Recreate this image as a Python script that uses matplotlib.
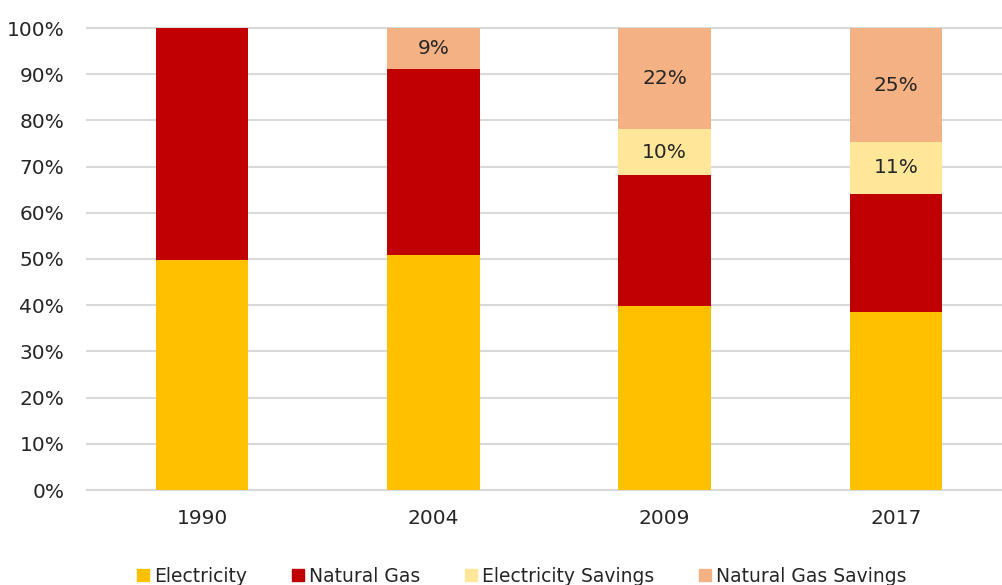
import matplotlib.pyplot as plt
import numpy as np
from matplotlib.lines import Line2D

# data (shares of total)
years = ['1990', '2004', '2009', '2017']
electricity = [49.8, 50.9, 39.8, 38.5]
natural_gas = [50.2, 40.2, 28.4, 25.6]
elec_savings = [0.0, 0.0, 9.9, 11.2]
gas_savings = [0.0, 8.9, 21.9, 24.7]
elec_savings_labels = ['', '', '10%', '11%']
gas_savings_labels = ['', '9%', '22%', '25%']

colors = ['#FFC000', '#C00000', '#FFE699', '#F4B183']
names = ['Electricity', 'Natural Gas', 'Electricity Savings', 'Natural Gas Savings']
text_col = '#262626'

plt.rcParams['font.family'] = ['DejaVu Sans']

fig = plt.figure(figsize=(10.02, 5.85), dpi=100)
ax = fig.add_axes([86.5 / 1002, 95 / 585, 925 / 1002, 462 / 585])

x = np.arange(len(years))
w = 0.4
series = [electricity, natural_gas, elec_savings, gas_savings]
bottom = np.zeros(len(years))
for vals, c in zip(series, colors):
    v = np.array(vals) / 100
    ax.bar(x, v, w, bottom=bottom, color=c, zorder=3)
    bottom = bottom + v

# labels on the savings segments
base = (np.array(electricity) + np.array(natural_gas)) / 100
for i in range(len(years)):
    if elec_savings_labels[i]:
        ax.text(x[i], base[i] + elec_savings[i] / 200, elec_savings_labels[i],
                ha='center', va='center', fontsize=14.5, color=text_col, zorder=4)
    if gas_savings_labels[i]:
        y0 = base[i] + elec_savings[i] / 100
        ax.text(x[i], y0 + gas_savings[i] / 200, gas_savings_labels[i],
                ha='center', va='center', fontsize=14.5, color=text_col, zorder=4)

ax.set_xlim(-0.5, 3.5)
ax.set_ylim(0, 1)
ax.set_yticks(np.arange(0, 1.01, 0.1))
ax.set_yticklabels([f'{int(round(t * 100))}%' for t in np.arange(0, 1.01, 0.1)])
ax.set_xticks(x)
ax.set_xticklabels(years)
ax.tick_params(axis='both', length=0, labelsize=14.5, colors=text_col)
ax.tick_params(axis='x', pad=14)
ax.tick_params(axis='y', pad=16)
ax.grid(axis='y', color='#d9d9d9', linewidth=1.5, zorder=0)
for line in ax.get_ygridlines():
    line.set_clip_on(False)
for s in ['top', 'right', 'left']:
    ax.spines[s].set_visible(False)
ax.spines['bottom'].set_color('#d9d9d9')
ax.spines['bottom'].set_linewidth(1.5)

handles = [Line2D([], [], marker='s', linestyle='', markersize=8,
                  markerfacecolor=c, markeredgecolor=c) for c in colors]
fig.legend(handles, names, loc='lower center', ncol=4, frameon=False,
           bbox_to_anchor=(0.518, -0.03), fontsize=13.5, handletextpad=0.0,
           handlelength=1.2, columnspacing=2.1, labelcolor=text_col)

fig.savefig('out.png', dpi=100)
